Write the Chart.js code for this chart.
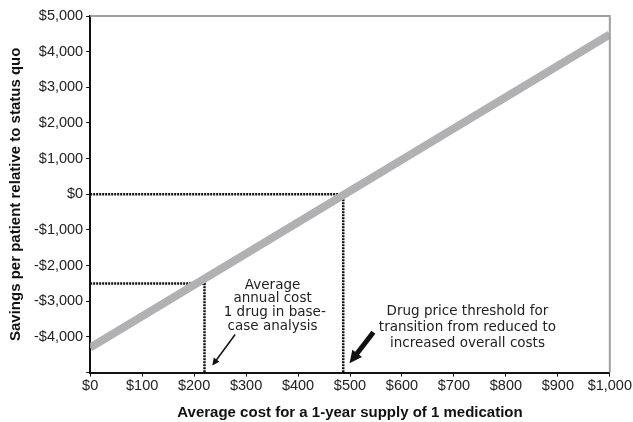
<!DOCTYPE html>
<html>
<head>
<meta charset="utf-8">
<script src="https://cdn.jsdelivr.net/npm/chart.js@4/dist/chart.umd.min.js"></script>
<style>
  html, body { margin: 0; padding: 0; background: #fff; }
  #wrap { width: 633px; height: 422px; }
</style>
</head>
<body>
<div id="wrap"><canvas id="grafico"></canvas></div>
<script>
// dados
const custoMedicamento = [0, 1000];
const economia = [-4300, 4480];
const limiteX = [487, 487];
const limiteY = [0, 0];
const baseX = [220, 220];
const baseY = [-2500, -2500];
const ticksX = [0, 100, 200, 300, 400, 500, 600, 700, 800, 900, 1000];
const ticksY = [-5000, -4000, -3000, -2000, -1000, 0, 1000, 2000, 3000, 4000, 5000];

const textoBase = ['Average', 'annual cost', ' 1 drug in base-', 'case analysis'];
const textoLimite = ['Drug price threshold for', 'transition from reduced to', 'increased overall costs'];

function dinheiro(v) {
    const s = '$' + Math.abs(v).toLocaleString('en-US');
    return v < 0 ? '-' + s : s;
}

const anotacoes = {
    id: 'anotacoes',
    afterDatasetsDraw(chart) {
        const { ctx, chartArea, scales } = chart;
        const x = scales.x, y = scales.y;
        ctx.save();
        // borda cinza em cima e na direita
        ctx.strokeStyle = '#a0a0a3';
        ctx.lineWidth = 2;
        ctx.beginPath();
        ctx.moveTo(chartArea.left, chartArea.top);
        ctx.lineTo(chartArea.right, chartArea.top);
        ctx.lineTo(chartArea.right, chartArea.bottom);
        ctx.stroke();

        ctx.fillStyle = '#222';
        ctx.font = '13.5px "DejaVu Sans"';
        ctx.textAlign = 'center';
        ctx.textBaseline = 'middle';
        textoBase.forEach((t, i) => {
            ctx.fillText(t, x.getPixelForValue(351), y.getPixelForValue(-2550 - i * 385));
        });
        textoLimite.forEach((t, i) => {
            ctx.fillText(t, x.getPixelForValue(726), y.getPixelForValue(-3290 - i * 450));
        });

        // seta fina
        seta(ctx, x.getPixelForValue(279), y.getPixelForValue(-3930), x.getPixelForValue(235), y.getPixelForValue(-4800), 1.5, 8);
        // seta grossa
        seta(ctx, x.getPixelForValue(545), y.getPixelForValue(-3870), x.getPixelForValue(499), y.getPixelForValue(-4740), 5, 14);
        ctx.restore();
    }
};

function seta(ctx, x1, y1, x2, y2, larg, cab) {
    const ang = Math.atan2(y2 - y1, x2 - x1);
    ctx.strokeStyle = '#111';
    ctx.fillStyle = '#111';
    ctx.lineWidth = larg;
    ctx.beginPath();
    ctx.moveTo(x1, y1);
    ctx.lineTo(x2 - Math.cos(ang) * cab * 0.7, y2 - Math.sin(ang) * cab * 0.7);
    ctx.stroke();
    ctx.beginPath();
    ctx.moveTo(x2, y2);
    ctx.lineTo(x2 - cab * Math.cos(ang - 0.45), y2 - cab * Math.sin(ang - 0.45));
    ctx.lineTo(x2 - cab * Math.cos(ang + 0.45), y2 - cab * Math.sin(ang + 0.45));
    ctx.closePath();
    ctx.fill();
}

function pontos(xs, ys) {
    return xs.map((v, i) => ({ x: v, y: ys[i] }));
}

new Chart(document.getElementById('grafico'), {
    type: 'line',
    data: {
        datasets: [{
            data: pontos(custoMedicamento, economia),
            borderColor: '#b1b1b4',
            borderWidth: 8,
            pointRadius: 0
        }, {
            data: pontos([0, limiteX[0], limiteX[1]], [limiteY[0], limiteY[1], -5000]),
            borderColor: '#111',
            borderWidth: 2.5,
            borderDash: [2, 1],
            pointRadius: 0
        }, {
            data: pontos([0, baseX[0], baseX[1]], [baseY[0], baseY[1], -5000]),
            borderColor: '#111',
            borderWidth: 2.5,
            borderDash: [2, 1],
            pointRadius: 0
        }]
    },
    options: {
        responsive: true,
        maintainAspectRatio: false,
        animation: false,
        layout: { padding: { top: 16, right: 19, left: 7, bottom: 0 } },
        plugins: { legend: { display: false }, tooltip: { enabled: false } },
        scales: {
            x: {
                type: 'linear',
                min: 0,
                max: 1000,
                afterBuildTicks: (ax) => { ax.ticks = ticksX.map(v => ({ value: v })); },
                ticks: {
                    callback: (v) => dinheiro(v),
                    color: '#222',
                    font: { family: 'Liberation Sans', size: 14.5 },
                    maxRotation: 0,
                    padding: 1
                },
                grid: { drawOnChartArea: false, drawTicks: true, tickLength: 4, color: '#111' },
                border: { color: '#111', width: 2 },
                title: {
                    display: true,
                    text: 'Average cost for a 1-year supply of 1 medication',
                    color: '#111',
                    font: { family: 'Liberation Sans', size: 15, weight: 'bold' },
                    padding: { top: 8, bottom: 0 }
                }
            },
            y: {
                min: -5000,
                max: 5000,
                afterBuildTicks: (ax) => { ax.ticks = ticksY.map(v => ({ value: v })); },
                ticks: {
                    callback: (v) => v === -5000 ? '' : dinheiro(v),
                    color: '#222',
                    font: { family: 'Liberation Sans', size: 14.5 },
                    padding: 3
                },
                grid: { drawOnChartArea: false, drawTicks: true, tickLength: 4, color: '#111' },
                border: { color: '#111', width: 2 },
                title: {
                    display: true,
                    text: 'Savings per patient relative to status quo',
                    color: '#111',
                    font: { family: 'Liberation Sans', size: 15, weight: 'bold' },
                    padding: { top: 0, bottom: 6 }
                }
            }
        }
    },
    plugins: [anotacoes]
});
</script>
</body>
</html>
